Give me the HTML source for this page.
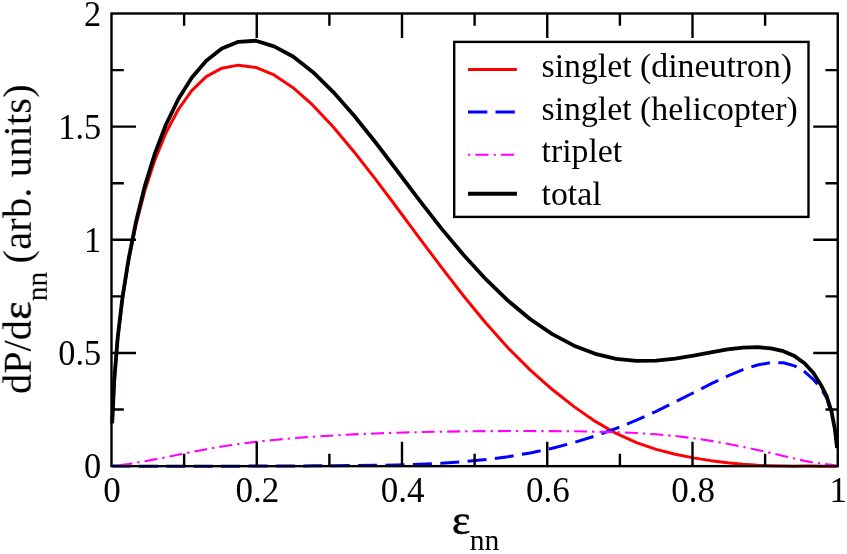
<!DOCTYPE html>
<html><head><meta charset="utf-8"><title>chart</title>
<style>html,body{margin:0;padding:0;background:#fff;}body{width:847px;height:554px;overflow:hidden;position:relative;font-family:"Liberation Serif",serif;}</style>
</head><body>
<svg width="847" height="554" viewBox="0 0 847 554" style="position:absolute;left:0;top:0">
<rect x="0" y="0" width="847" height="554" fill="#fff"/>
<path d="M112.19,423.42 L114.25,380.71 L117.68,338.28 L122.47,298.54 L128.59,260.72 L136.02,224.73 L144.74,191.08 L154.71,160.31 L165.89,132.95 L178.24,109.53 L191.72,90.59 L206.27,76.66 L221.84,68.17 L238.37,65.14 L255.79,67.44 L274.05,74.98 L293.06,87.64 L312.77,105.16 L333.08,126.79 L353.94,151.67 L375.25,178.94 L396.94,207.77 L418.92,237.34 L441.12,266.91 L463.44,295.71 L485.81,323.00 L508.13,348.01 L530.33,370.14 L552.31,389.54 L574.00,406.62 L595.31,421.42 L616.17,433.49 L636.48,442.65 L656.19,449.40 L675.20,454.28 L693.46,457.88 L710.88,460.64 L727.41,462.72 L742.98,464.20 L757.53,465.19 L771.01,465.78 L783.36,466.06 L794.54,466.13 L804.51,465.92 L813.23,466.04 L820.66,466.15 L826.78,466.15 L831.57,466.15 L835.00,466.15 L837.06,466.15" fill="none" stroke="#ff0000" stroke-width="3" stroke-linejoin="round"/>
<path d="M112.19,466.12 L114.25,466.10 L117.68,466.10 L122.47,466.10 L128.59,466.11 L136.02,466.13 L144.74,466.14 L154.71,466.15 L165.89,466.15 L178.24,466.15 L191.72,466.15 L206.27,466.15 L221.84,466.15 L238.37,466.14 L255.79,466.10 L274.05,466.03 L293.06,465.95 L312.77,465.85 L333.08,465.72 L353.94,465.56 L375.25,465.35 L396.94,464.97 L418.92,464.32 L441.12,463.27 L463.44,461.73 L485.81,459.56 L508.13,456.67 L530.33,452.94 L552.31,448.25 L574.00,442.56 L595.31,435.94 L616.17,428.46 L636.48,420.21 L656.19,411.29 L675.20,401.98 L693.46,392.72 L710.88,383.95 L727.41,376.10 L742.98,369.63 L757.53,364.96 L771.01,362.53 L783.36,362.77 L794.54,365.88 L804.51,371.66 L813.23,379.28 L820.66,388.07 L826.78,398.25 L831.57,414.10" fill="none" stroke="#0000ff" stroke-width="3.0" stroke-dasharray="19 8.4" stroke-dashoffset="0.68" stroke-linejoin="round"/>
<path d="M112.19,466.15 L114.25,465.98 L117.68,465.56 L122.47,464.89 L128.59,463.96 L136.02,462.74 L144.74,461.23 L154.71,459.40 L165.89,457.23 L178.24,454.71 L191.72,451.97 L206.27,449.16 L221.84,446.48 L238.37,444.04 L255.79,441.86 L274.05,439.93 L293.06,438.22 L312.77,436.74 L333.08,435.46 L353.94,434.37 L375.25,433.46 L396.94,432.71 L418.92,432.13 L441.12,431.68 L463.44,431.36 L485.81,431.16 L508.13,431.06 L530.33,431.06 L552.31,431.13 L574.00,431.30 L595.31,431.63 L616.17,432.20 L636.48,433.07 L656.19,434.32 L675.20,436.01 L693.46,438.22 L710.88,440.89 L727.41,443.84 L742.98,446.90 L757.53,449.97 L771.01,453.00 L783.36,455.90 L794.54,458.58 L804.51,460.87 L813.23,462.66 L820.66,463.48 L826.78,464.25 L831.57,464.91 L835.00,465.47 L837.06,465.92" fill="none" stroke="#ff00ff" stroke-width="2.1" stroke-dasharray="13 5 2.3 5.09" stroke-dashoffset="18.02" stroke-linejoin="round"/>
<path d="M112.19,423.28 L114.25,380.37 L117.68,337.69 L122.47,297.53 L128.59,259.04 L136.02,221.65 L144.74,186.42 L154.71,154.00 L165.89,124.80 L178.24,99.25 L191.72,77.75 L206.27,60.71 L221.84,48.55 L238.37,41.79 L255.79,40.77 L274.05,46.32 L293.06,56.50 L312.77,71.90 L333.08,91.83 L353.94,115.48 L375.25,142.01 L396.94,170.49 L418.92,199.64 L441.12,228.12 L463.44,254.81 L485.81,279.18 L508.13,300.79 L530.33,319.22 L552.31,334.15 L574.00,345.65 L595.31,353.84 L616.17,358.86 L636.48,360.90 L656.19,360.57 L675.20,358.57 L693.46,355.58 L710.88,352.31 L727.41,349.46 L742.98,347.65 L757.53,347.20 L771.01,348.31 L783.36,351.21 L794.54,356.11 L804.51,363.23 L813.23,372.78 L820.66,384.45 L826.78,396.44 L831.57,411.83 L835.00,429.94 L837.06,448.04" fill="none" stroke="#000" stroke-width="3.8" stroke-linejoin="round"/>
<rect x="111.5" y="13.5" width="726.25" height="452.65" fill="none" stroke="#000" stroke-width="2.4"/>
<path d="M184.12,466.15 v-12.3 M184.12,13.5 v12.3 M256.75,466.15 v-24.5 M256.75,13.5 v24.5 M329.38,466.15 v-12.3 M329.38,13.5 v12.3 M402.00,466.15 v-24.5 M402.00,13.5 v24.5 M474.62,466.15 v-12.3 M474.62,13.5 v12.3 M547.25,466.15 v-24.5 M547.25,13.5 v24.5 M619.88,466.15 v-12.3 M619.88,13.5 v12.3 M692.50,466.15 v-24.5 M692.50,13.5 v24.5 M765.12,466.15 v-12.3 M765.12,13.5 v12.3 M111.5,409.57 h12.3 M837.75,409.57 h-12.3 M111.5,352.99 h24.5 M837.75,352.99 h-24.5 M111.5,296.41 h12.3 M837.75,296.41 h-12.3 M111.5,239.82 h24.5 M837.75,239.82 h-24.5 M111.5,183.24 h12.3 M837.75,183.24 h-12.3 M111.5,126.66 h24.5 M837.75,126.66 h-24.5 M111.5,70.08 h12.3 M837.75,70.08 h-12.3" fill="none" stroke="#000" stroke-width="2.4"/>
<rect x="454.2" y="41.9" width="354.3" height="175.0" fill="#fff" stroke="#000" stroke-width="2.4"/>
<path d="M468,69.4 H516.9" stroke="#ff0000" stroke-width="3"/>
<path d="M468,112 H516.9" stroke="#0000ff" stroke-width="3.1" stroke-dasharray="19.3 8.2"/>
<path d="M468,154.7 H516.9" stroke="#ff00ff" stroke-width="2.1" stroke-dasharray="2.2 5.1 13.2 5.1"/>
<path d="M468,193.7 H516.9" stroke="#000" stroke-width="3.9"/>
<g opacity="0.999">
<text x="541.5" y="76.9" font-family="Liberation Serif, serif" font-size="33.8" fill="#000">singlet (dineutron)</text>
<text x="541.5" y="119.6" font-family="Liberation Serif, serif" font-size="33.8" fill="#000">singlet (helicopter)</text>
<text x="541.5" y="162.3" font-family="Liberation Serif, serif" font-size="33.8" fill="#000">triplet</text>
<text x="541.5" y="205" font-family="Liberation Serif, serif" font-size="33.8" fill="#000">total</text>
<text transform="translate(112.00,501.8) scale(1.02,1.045)" font-family="Liberation Serif, serif" font-size="34.3" text-anchor="middle" fill="#000">0</text>
<text transform="translate(257.25,501.8) scale(1.02,1.045)" font-family="Liberation Serif, serif" font-size="34.3" text-anchor="middle" fill="#000">0.2</text>
<text transform="translate(402.50,501.8) scale(1.02,1.045)" font-family="Liberation Serif, serif" font-size="34.3" text-anchor="middle" fill="#000">0.4</text>
<text transform="translate(547.75,501.8) scale(1.02,1.045)" font-family="Liberation Serif, serif" font-size="34.3" text-anchor="middle" fill="#000">0.6</text>
<text transform="translate(693.00,501.8) scale(1.02,1.045)" font-family="Liberation Serif, serif" font-size="34.3" text-anchor="middle" fill="#000">0.8</text>
<text transform="translate(838.25,501.8) scale(1.02,1.045)" font-family="Liberation Serif, serif" font-size="34.3" text-anchor="middle" fill="#000">1</text>
<text transform="translate(101.2,478.35) scale(1.0,1.045)" font-family="Liberation Serif, serif" font-size="34.3" text-anchor="end" fill="#000">0</text>
<text transform="translate(101.2,365.19) scale(1.0,1.045)" font-family="Liberation Serif, serif" font-size="34.3" text-anchor="end" fill="#000">0.5</text>
<text transform="translate(101.2,252.02) scale(1.0,1.045)" font-family="Liberation Serif, serif" font-size="34.3" text-anchor="end" fill="#000">1</text>
<text transform="translate(101.2,138.86) scale(1.0,1.045)" font-family="Liberation Serif, serif" font-size="34.3" text-anchor="end" fill="#000">1.5</text>
<text transform="translate(101.2,25.70) scale(1.0,1.045)" font-family="Liberation Serif, serif" font-size="34.3" text-anchor="end" fill="#000">2</text>
<text transform="translate(451.9,533.6) scale(1.09,0.99)" font-family="Liberation Serif, serif" font-size="40" fill="#000" stroke="#000" stroke-width="0.55" stroke-linejoin="round">ε</text>
<text x="469.8" y="550.3" font-family="Liberation Serif, serif" font-size="29.6" fill="#000">nn</text>
<g transform="translate(30.8,394) rotate(-90)" font-family="Liberation Serif, serif" fill="#000">
<text x="0" y="0" font-size="40.3">dP/d</text>
<text transform="translate(74.2,-0.2) scale(1.09,0.99)" font-size="40" stroke="#000" stroke-width="0.55" stroke-linejoin="round">ε</text>
<text x="92.8" y="16.3" font-size="29.6">nn</text>
<text x="130.6" y="0" font-size="40.3" letter-spacing="0.2">(arb. units)</text>
</g>
</g>
</svg>
</body></html>
